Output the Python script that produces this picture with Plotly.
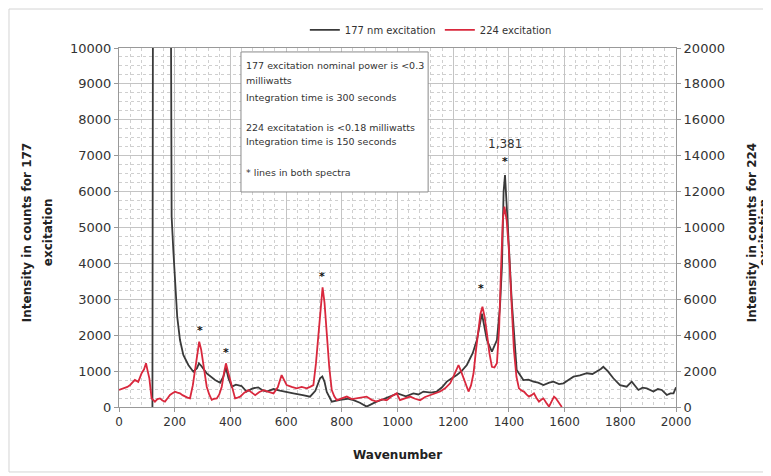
import plotly.graph_objects as go

# 177 nm excitation (left axis counts)
wn_177 = [120, 122, 186, 189, 195, 201, 209, 219, 231, 249, 267, 280, 287, 295, 315, 345, 363, 375, 384, 393,
          405, 420, 440, 458, 480, 500, 515, 530, 555, 578, 600, 626, 660, 686, 705, 722, 730, 738, 746, 764,
          794, 820, 842, 865, 889, 905, 925, 950, 973, 1000, 1030, 1057, 1075, 1093, 1120, 1141, 1160, 1177,
          1195, 1213, 1230, 1249, 1270, 1285, 1303, 1321, 1339, 1357, 1368, 1375, 1381, 1386, 1395, 1410,
          1428, 1452, 1470, 1488, 1505, 1524, 1545, 1560, 1580, 1596, 1615, 1632, 1655, 1680, 1700, 1716,
          1730, 1739, 1755, 1775, 1799, 1823, 1841, 1865, 1880, 1895, 1919, 1935, 1949, 1967, 1980, 1991, 2000]
int_177 = [0, 12000, 12000, 5300, 4370, 3450, 2515, 1866, 1450, 1170, 983, 1080, 1217, 1150, 938, 752, 677, 850,
           1100, 800, 566, 620, 585, 430, 520, 548, 470, 430, 500, 455, 430, 380, 330, 287, 450, 800, 850, 700,
           420, 148, 200, 230, 190, 120, 10, 80, 150, 220, 287, 380, 300, 380, 350, 430, 400, 430, 550, 707,
           800, 890, 1000, 1170, 1500, 1866, 2600, 1866, 1540, 1866, 2800, 3900, 6000, 6460, 5200, 2980,
           1030, 750, 760, 707, 680, 610, 680, 707, 640, 660, 760, 845, 880, 940, 920, 985, 1060, 1120, 1000,
           800, 610, 565, 707, 475, 540, 520, 430, 500, 475, 335, 380, 380, 550]

# 224 excitation (right axis counts)
wn_224 = [0, 10, 22, 30, 40, 50, 57, 69, 81, 90, 97, 103, 109, 117, 129, 138, 147, 156, 165, 175, 183, 192, 201,
          210, 219, 228, 237, 246, 255, 265, 273, 281, 288, 295, 303, 309, 315, 324, 333, 342, 351, 360, 369,
          377, 384, 391, 399, 408, 417, 426, 435, 450, 465, 477, 489, 504, 519, 537, 555, 570, 584, 593, 602,
          620, 638, 656, 674, 686, 698, 707, 716, 724, 731, 738, 746, 755, 764, 773, 782, 800, 818, 836, 854,
          872, 889, 907, 925, 943, 961, 979, 997, 1009, 1027, 1045, 1063, 1081, 1099, 1117, 1135, 1153, 1171,
          1189, 1204, 1219, 1228, 1237, 1246, 1255, 1264, 1273, 1282, 1291, 1298, 1305, 1313, 1321, 1330,
          1339, 1348, 1357, 1365, 1372, 1378, 1384, 1392, 1400, 1409, 1418, 1427, 1436, 1445, 1454, 1463,
          1472, 1481, 1490, 1499, 1508, 1516, 1524, 1534, 1544, 1553, 1562, 1568, 1574, 1582, 1590]
int_224 = [946, 1000, 1040, 1120, 1226, 1400, 1504, 1400, 1876, 2100, 2434, 2000, 1600, 484, 300, 440, 480, 360,
           300, 500, 668, 760, 854, 800, 760, 660, 580, 520, 484, 1200, 2060, 3000, 3640, 3200, 2434, 1800,
           1132, 700, 400, 460, 480, 700, 1132, 1900, 2434, 2000, 1504, 900, 480, 520, 574, 800, 940, 800,
           660, 840, 940, 840, 760, 1100, 1780, 1500, 1220, 1120, 1040, 1120, 1040, 1120, 1220, 2400, 4100,
           5800, 6660, 5800, 4100, 2200, 940, 600, 380, 500, 580, 440, 480, 540, 580, 400, 300, 420, 380, 600,
           760, 380, 480, 580, 460, 380, 560, 670, 760, 860, 1040, 1320, 1800, 2340, 2000, 1600, 1200, 860,
           1200, 1880, 3200, 4480, 5200, 5590, 5000, 4100, 3000, 2240, 2200, 2434, 4400, 7800, 10400, 11160,
           10400, 8740, 6000, 3180, 1700, 1040, 920, 860, 700, 580, 660, 760, 500, 300, 400, 480, 240, 20,
           300, 580, 500, 380, 160, 0]

# star markers (wavenumber, left-axis height)
star_x = [290, 385, 730, 1300, 1386]
star_y = [2145, 1560, 3650, 3315, 6880]

x_ticks = [0, 200, 400, 600, 800, 1000, 1200, 1400, 1600, 1800, 2000]
note_lines = ["177 excitation nominal power is <0.3", "milliwatts", "Integration time is 300 seconds",
              "224 excitatation is <0.18 milliwatts", "Integration time is 150 seconds",
              "* lines in both spectra"]
note_y = [9499, 9081, 8635, 7799, 7382, 6546]

FONT = "DejaVu Sans"
GRID = "#c4c4c4"
MINOR = "#cfcfcf"

fig = go.Figure()
fig.add_trace(go.Scatter(x=wn_177, y=int_177, mode="lines", name="177 nm excitation",
                         line=dict(color="#3a3a3a", width=1.8), yaxis="y"))
fig.add_trace(go.Scatter(x=wn_224, y=int_224, mode="lines", name="224 excitation",
                         line=dict(color="#d9283d", width=1.8), yaxis="y2"))

annotations = []
for sx, sy in zip(star_x, star_y):
    annotations.append(dict(x=sx, y=sy, xref="x", yref="y", text="<b>*</b>", showarrow=False,
                            font=dict(family=FONT, size=11, color="#111"), yshift=-1))
annotations.append(dict(x=1386, y=7330, xref="x", yref="y", text="1,381", showarrow=False,
                        font=dict(family=FONT, size=12, color="#333")))
for line, ly in zip(note_lines, note_y):
    annotations.append(dict(x=450, y=ly, xref="x", yref="y", text=line, showarrow=False,
                            xanchor="left", yanchor="middle", align="left",
                            font=dict(family=FONT, size=9.5, color="#333")))
# axis titles (each line placed separately)
for txt, px in [("Intensity in counts for 177", -0.1652), ("excitation", -0.1275)]:
    annotations.append(dict(x=px, y=0.487, xref="paper", yref="paper", textangle=-90, showarrow=False,
                            text="<b>" + txt + "</b>", font=dict(family=FONT, size=12, color="#222"),
                            xanchor="center", yanchor="middle"))
for txt, px in [("Intensity in counts for 224", 1.1364), ("excitation", 1.158)]:
    annotations.append(dict(x=px, y=0.487, xref="paper", yref="paper", textangle=-90, showarrow=False,
                            text="<b>" + txt + "</b>", font=dict(family=FONT, size=12, color="#222"),
                            xanchor="center", yanchor="middle"))
annotations.append(dict(x=0.5, y=-0.1337, xref="paper", yref="paper", showarrow=False,
                        text="<b>Wavenumber</b>", font=dict(family=FONT, size=12, color="#222"),
                        xanchor="center", yanchor="middle"))

shapes = [
    dict(type="rect", xref="x", yref="y", x0=438, x1=1110, y0=5990, y1=9890,
         fillcolor="white", line=dict(color="#8a8a8a", width=1), layer="above"),
    dict(type="rect", xref="paper", yref="paper", x0=-0.1975, x1=1.1598, y0=-0.181, y1=1.1086,
         fillcolor="rgba(0,0,0,0)", line=dict(color="#d4d4d4", width=1)),
]

fig.update_layout(
    width=771, height=476,
    margin=dict(l=111, r=103, t=40, b=77),
    paper_bgcolor="white", plot_bgcolor="white",
    font=dict(family=FONT, color="#333"),
    showlegend=True,
    legend=dict(orientation="h", xref="container", yref="container", x=0.385, xanchor="left",
                y=0.954, yanchor="middle", entrywidth=90, entrywidthmode="pixels",
                font=dict(family=FONT, size=10, color="#333"), tracegroupgap=0),
    xaxis=dict(range=[0, 2000], tickvals=x_ticks, ticks="outside", ticklen=4, tickcolor="#999",
               showgrid=True, gridcolor=GRID, gridwidth=1, automargin=False,
               minor=dict(dtick=40, showgrid=True, gridcolor=MINOR, griddash="dot"),
               showline=True, linecolor="#999", mirror=True, zeroline=False,
               tickfont=dict(family=FONT, size=12, color="#333")),
    yaxis=dict(range=[0, 10000], dtick=1000, tickformat="d", ticks="outside", ticklen=4, tickcolor="#999",
               showgrid=True, gridcolor=GRID, automargin=False,
               minor=dict(dtick=250, showgrid=True, gridcolor=MINOR, griddash="dot"),
               showline=True, linecolor="#999", zeroline=False,
               tickfont=dict(family=FONT, size=13, color="#333")),
    yaxis2=dict(range=[0, 20000], dtick=2000, tickformat="d", overlaying="y", side="right", ticks="outside",
                ticklen=4, automargin=False,
                tickcolor="#999", showgrid=False, showline=True, linecolor="#999", zeroline=False,
                tickfont=dict(family=FONT, size=13, color="#333")),
    annotations=annotations, shapes=shapes,
)

fig.write_html("out.html")
